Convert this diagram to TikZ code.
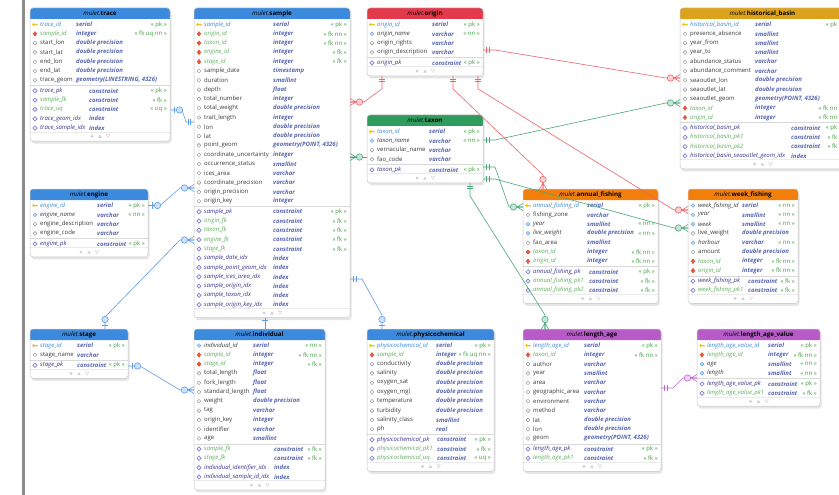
\documentclass[tikz,border=0pt]{standalone}
\usepackage{fontspec}
\setmainfont{Open Sans}
\usetikzlibrary{calc}

\definecolor{hblue}{HTML}{3C8ADE}
\definecolor{hred}{HTML}{E23A4A}
\definecolor{hgreen}{HTML}{2F9C5E}
\definecolor{hgold}{HTML}{DCA21C}
\definecolor{horange}{HTML}{F27F0C}
\definecolor{hpurple}{HTML}{B75BC8}
\definecolor{pkblue}{HTML}{3C88D8}
\definecolor{fkgreen}{HTML}{5CAE5C}
\definecolor{coltext}{HTML}{3A3A3A}
\definecolor{navy}{HTML}{33338C}
\definecolor{typeblue}{HTML}{5565B0}
\definecolor{flaggreen}{HTML}{3E9E3E}
\definecolor{keyyel}{HTML}{E8C21A}
\definecolor{fkred}{HTML}{E8573A}
\definecolor{nnblue}{HTML}{5A9EE0}
\definecolor{conpur}{HTML}{7272C8}
\definecolor{lblue}{HTML}{5E9CE6}
\definecolor{lred}{HTML}{EC6468}
\definecolor{lgreen}{HTML}{46A878}
\definecolor{lpurple}{HTML}{C466D6}

\newcommand\ersize{\fontsize{6}{7}\selectfont}

\tikzset{
  erbox/.style={rectangle, fill=white, inner sep=0, outer sep=0},
  erborder/.style={draw=black!22, line width=0.5pt, rounded corners=3pt},
  erhead/.style={inner sep=0, font=\fontsize{6.2}{7}\selectfont},
  ername/.style={anchor=west, inner sep=0, font=\ersize, text=coltext},
  nm-pk/.style={text=pkblue, font=\ersize\itshape},
  nm-fk/.style={text=fkgreen, font=\ersize\itshape},
  nm-nn/.style={font=\ersize\itshape},
  nm-col/.style={},
  nm-kn/.style={text=navy, font=\ersize\itshape},
  nm-kg/.style={text=fkgreen, font=\ersize\itshape},
  ertype/.style={anchor=west, inner sep=0, text=typeblue, font=\ersize\bfseries\itshape},
  erflag/.style={anchor=east, inner sep=0, text=flaggreen, font=\ersize},
  rel/.style={line width=0.6pt},
  % row icons
  ico-pk/.pic={\fill[keyyel] (-1.3,0) circle (1.5); \fill[keyyel] (-0.5,-0.5) rectangle (2.6,0.5) (1.6,0.5) rectangle (2.4,1.6);},
  ico-fk/.pic={\fill[fkred] (-2.2,-0.9) rectangle (2.2,0.9) (-0.9,-2.2) rectangle (0.9,2.2);},
  ico-nn/.pic={\draw[nnblue, fill=nnblue!35, line width=0.4pt] (0,0) circle (1.9);},
  ico-col/.pic={\draw[black!45, fill=white, line width=0.4pt] (0,0) circle (1.9);},
  ico-con/.pic={\draw[conpur, fill=conpur!15, line width=0.5pt] (0,-2.2) -- (2.2,0) -- (0,2.2) -- (-2.2,0) -- cycle;},
  % relation ends
  one/.pic={\draw[#1, line width=0.6pt] (3.5,-3.2) -- (3.5,3.2) (5.8,-3.2) -- (5.8,3.2);},
  zone/.pic={\draw[#1, line width=0.6pt] (4,-3.2) -- (4,3.2); \draw[#1, line width=0.6pt, fill=#1!30] (9.5,0) circle (3.2);},
  many/.pic={\draw[#1, line width=0.6pt] (0,-3.5) -- (6,0) -- (0,3.5) (0,0) -- (6,0); \draw[#1, line width=0.6pt, fill=#1!30] (9.5,0) circle (3.2);},
}

% table frame: name, x, y, width, colour, title, columns, constraints
\newcommand\ertable[8]{%
  \def\erid{#1}\def\erx{#2}\def\ery{#3}\def\erw{#4}\def\ernc{#7}%
  \pgfmathsetmacro\erh{40+9.3*(#7+#8-2)}%
  \fill[black!10, rounded corners=3pt] (#2+1.5,#3+2.5) rectangle ++(#4,\erh);
  \node[erbox, minimum width=#4, minimum height=\erh, anchor=north west] (#1) at (#2,#3) {};
  \fill[#5, rounded corners=3pt] (#2,#3) rectangle ++(#4,11);
  \fill[#5] (#2,#3+6) rectangle ++(#4,5);
  \node[erhead] (#1-title) at (#2+#4/2,#3+5.5) {\textit{mulet.}\textbf{#6}};
  \pgfmathsetmacro\ersep{#3+16.5+9.3*(#7-1)+5.2}%
  \draw[black!15] (#2,\ersep) -- ++(#4,0);
  \pgfmathsetmacro\erfy{#3+\erh-4.8}%
  \draw[black!8] (#2,\erfy-4.5) -- ++(#4,0);
  \fill[black!18] (#2+#4/2-8,\erfy-1.6) -- ++(1.6,1.6) -- ++(-1.6,1.6) -- ++(-1.6,-1.6) -- cycle;
  \fill[black!18] (#2+#4/2,\erfy-1.6) -- ++(1.8,3.2) -- ++(-3.6,0) -- cycle;
  \draw[black!18, line width=0.4pt] (#2+#4/2+8,\erfy+1.6) -- ++(1.8,-3.2) -- ++(-3.6,0) -- cycle;
  \draw[erborder] (#1.north west) rectangle (#1.south east);
}
% column rows: type offset, list icon/name/type/flag
\newcommand\ercols[2]{%
  \foreach \k/\n/\t/\f [count=\i from 0] in {#2}{
    \pgfmathsetmacro\ry{\ery+16.5+9.3*\i}
    \pic at (\erx+5,\ry) {ico-\k};
    \node[ername, nm-\k] (\erid-c\i) at (\erx+10,\ry) {\n};
    \node[ertype] (\erid-t\i) at (\erx+#1,\ry) {\t};
    \node[erflag] (\erid-f\i) at (\erx+\erw-3,\ry) {\if-\f\else«~\f~»\fi};
  }
}
% constraint rows
\newcommand\ercons[2]{%
  \foreach \k/\n/\t/\f [count=\i from 0] in {#2}{
    \pgfmathsetmacro\ry{\ery+16.5+9.3*(\ernc-1)+10.5+9.3*\i}
    \pic at (\erx+5,\ry) {ico-con};
    \node[ername, nm-\k] (\erid-k\i) at (\erx+10,\ry) {\n};
    \node[ertype] (\erid-u\i) at (\erx+#1,\ry) {\t};
    \node[erflag] (\erid-g\i) at (\erx+\erw-3,\ry) {\if-\f\else«~\f~»\fi};
  }
}

\begin{document}
\begin{tikzpicture}[x=1pt, y=-1pt]
\useasboundingbox (0,0) rectangle (839,495);
\fill[white] (0,0) rectangle (839,495);
\fill[black!45] (22,0) rectangle (24.5,495);

% tables
\ertable{trace}{30}{8}{140}{hblue}{trace}{7}{5}
\ercols{46}{pk/trace\_id/serial/pk, fk/sample\_id/integer/fk uq nn,
  col/start\_lon/double precision/-, col/start\_lat/double precision/-,
  col/end\_lon/double precision/-, col/end\_lat/double precision/-,
  col/trace\_geom/{geometry(LINESTRING, 4326)}/-}
\ercons{59}{kn/trace\_pk/constraint/pk, kg/sample\_fk/constraint/fk, kg/trace\_uq/constraint/uq,
  kn/trace\_geom\_idx/index/-, kn/trace\_sample\_idx/index/-}

\ertable{sample}{194}{8}{156}{hblue}{sample}{20}{11}
\ercols{79}{pk/sample\_id/serial/pk, fk/origin\_id/integer/fk nn, fk/taxon\_id/integer/fk nn,
  fk/engine\_id/integer/fk, fk/stage\_id/integer/fk, col/sample\_date/timestamp/-,
  col/duration/smallint/-, col/depth/float/-, col/total\_number/integer/-,
  col/total\_weight/double precision/-, col/trait\_length/integer/-,
  col/lon/double precision/-, col/lat/double precision/-,
  col/point\_geom/{geometry(POINT, 4326)}/-, col/coordinate\_uncertainty/integer/-,
  col/occurrence\_status/smallint/-, col/ices\_area/varchar/-,
  col/coordinate\_precision/varchar/-, col/origin\_precision/varchar/-, col/origin\_key/integer/-}
\ercons{79}{kn/sample\_pk/constraint/pk, kg/origin\_fk/constraint/fk, kg/taxon\_fk/constraint/fk,
  kg/engine\_fk/constraint/fk, kg/stage\_fk/constraint/fk, kn/sample\_date\_idx/index/-,
  kn/sample\_point\_geom\_idx/index/-, kn/sample\_ices\_area\_idx/index/-,
  kn/sample\_origin\_idx/index/-, kn/sample\_taxon\_idx/index/-, kn/sample\_origin\_key\_idx/index/-}

\ertable{origin}{367}{8}{116}{hred}{origin}{4}{1}
\ercols{65}{pk/origin\_id/serial/pk, nn/origin\_name/varchar/nn,
  col/origin\_rights/varchar/-, col/origin\_description/varchar/-}
\ercons{65}{kn/origin\_pk/constraint/pk}

\ertable{taxon}{367}{115}{116}{hgreen}{taxon}{4}{1}
\ercols{62}{pk/taxon\_id/serial/pk, nn/taxon\_name/varchar/nn,
  col/vernacular\_name/varchar/-, col/fao\_code/varchar/-}
\ercons{62}{kn/taxon\_pk/constraint/pk}

\ertable{basin}{680}{8}{165}{hgold}{historical\_basin}{11}{4}
\ercols{75}{pk/historical\_basin\_id/serial/pk, col/presence\_absence/smallint/-,
  col/year\_from/smallint/-, col/year\_to/smallint/-, col/abundance\_status/varchar/-,
  col/abundance\_comment/varchar/-, col/seaoutlet\_lon/double precision/-,
  col/seaoutlet\_lat/double precision/-, col/seaoutlet\_geom/{geometry(POINT, 4326)}/-,
  fk/taxon\_id/integer/fk nn, fk/origin\_id/integer/fk nn}
\ercons{111}{kn/historical\_basin\_pk/constraint/pk, kg/historical\_basin\_pk1/constraint/fk,
  kg/historical\_basin\_pk2/constraint/fk, kn/historical\_basin\_seaoutlet\_geom\_idx/index/-}

\ertable{engine}{30}{189}{118}{hblue}{engine}{4}{1}
\ercols{67}{pk/engine\_id/serial/pk, nn/engine\_name/varchar/nn,
  col/engine\_description/varchar/-, col/engine\_code/varchar/-}
\ercons{67}{kn/engine\_pk/constraint/pk}

\ertable{stage}{30}{329}{98}{hblue}{stage}{2}{1}
\ercols{47}{pk/stage\_id/serial/pk, col/stage\_name/varchar/-}
\ercons{47}{kn/stage\_pk/constraint/pk}

\ertable{individual}{194}{329}{131}{hblue}{individual}{11}{4}
\ercols{59}{nn/individual\_id/serial/nn, fk/sample\_id/integer/fk nn, fk/stage\_id/integer/fk,
  col/total\_length/float/-, col/fork\_length/float/-, col/standard\_length/float/-,
  col/weight/double precision/-, col/tag/varchar/-, col/origin\_key/integer/-,
  col/identifier/varchar/-, col/age/smallint/-}
\ercons{80}{kg/sample\_fk/constraint/fk, kg/stage\_fk/constraint/fk,
  kn/individual\_identifier\_idx/index/-, kn/individual\_sample\_id\_idx/index/-}

\ertable{physico}{367}{329}{127}{hblue}{physicochemical}{10}{3}
\ercols{69}{pk/physicochemical\_id/serial/pk, fk/sample\_id/integer/fk uq nn,
  col/conductivity/double precision/-, col/salinity/double precision/-,
  col/oxygen\_sat/double precision/-, col/oxygen\_mgl/double precision/-,
  col/temperature/double precision/-, col/turbidity/double precision/-,
  col/salinity\_class/smallint/-, col/ph/real/-}
\ercons{70}{kn/physicochemical\_pk/constraint/pk, kg/physicochemical\_pk1/constraint/fk,
  kg/physicochemical\_uq/constraint/uq}

\ertable{annual}{523}{189}{135}{horange}{annual\_fishing}{7}{3}
\ercols{64}{pk/annual\_fishing\_id/serial/pk, col/fishing\_zone/varchar/-,
  nn/year/smallint/nn, nn/live\_weight/double precision/nn, col/fao\_area/smallint/-,
  fk/taxon\_id/integer/fk nn, fk/origin\_id/integer/fk nn}
\ercons{66}{kn/annual\_fishing\_pk/constraint/pk, kg/annual\_fishing\_pk1/constraint/fk,
  kg/annual\_fishing\_pk2/constraint/fk}

\ertable{week}{688}{189}{110}{horange}{week\_fishing}{8}{2}
\ercols{54}{nn/week\_fishing\_id/serial/nn, nn/year/smallint/nn, nn/week/smallint/nn,
  col/live\_weight/double precision/-, nn/harbour/varchar/nn, col/amount/double precision/-,
  fk/taxon\_id/integer/fk nn, fk/origin\_id/integer/fk nn}
\ercons{60}{kn/week\_fishing\_pk/constraint/fk, kg/week\_fishing\_pk1/constraint/fk}

\ertable{lenage}{523}{329}{138}{hpurple}{length\_age}{11}{2}
\ercols{61}{pk/length\_age\_id/serial/pk, fk/taxon\_id/integer/fk nn, col/author/varchar/-,
  col/year/smallint/-, col/area/varchar/-, col/geographic\_area/varchar/-,
  col/environment/varchar/-, col/method/varchar/-, col/lat/double precision/-,
  col/lon/double precision/-, col/geom/{geometry(POINT, 4326)}/-}
\ercons{61}{kn/length\_age\_pk/constraint/pk, kg/length\_age\_pk1/constraint/fk}

\ertable{lenval}{697}{329}{123}{hpurple}{length\_age\_value}{4}{2}
\ercols{71}{pk/length\_age\_value\_id/serial/pk, fk/length\_age\_id/integer/fk nn,
  nn/age/smallint/nn, nn/length/smallint/nn}
\ercons{71}{kn/length\_age\_value\_pk/constraint/pk, kg/length\_age\_value\_pk1/constraint/fk}

% relations to sample
\coordinate (r1a) at ([yshift=-102pt]trace.north east);
\coordinate (r1b) at ([yshift=-114pt]sample.north west);
\draw[rel,lblue] (r1a) -- ++(12,0) -- ([xshift=-8pt]r1b) -- (r1b);
\pic at (r1a) {zone=lblue};
\pic[rotate=180] at (r1b) {one=lblue};

\coordinate (r2a) at ([yshift=-16.5pt]engine.north east);
\coordinate (r2b) at ([yshift=-180pt]sample.north west);
\draw[rel,lblue] (r2a) -- ++(12,0) -- ([xshift=-14pt]r2b) -- (r2b);
\pic at (r2a) {zone=lblue};
\pic[rotate=180] at (r2b) {many=lblue};

\coordinate (r3a) at ([xshift=75pt]stage.north west);
\coordinate (r3b) at ([yshift=-232pt]sample.north west);
\draw[rel,lblue] (r3a) -- ++(0,-12) -- ([xshift=-14pt]r3b) -- (r3b);
\pic[rotate=90] at (r3a) {zone=lblue};
\pic[rotate=180] at (r3b) {many=lblue};

\coordinate (r4a) at ([yshift=-37pt]stage.north east);
\coordinate (r4b) at ([yshift=-61pt]individual.north west);
\draw[rel,lblue] (r4a) -- ++(12,0) -- ([xshift=-14pt]r4b) -- (r4b);
\pic at (r4a) {zone=lblue};
\pic[rotate=180] at (r4b) {many=lblue};

\coordinate (r5a) at ([xshift=71pt]sample.south west);
\coordinate (r5b) at ([xshift=71pt]individual.north west);
\draw[rel,lblue] (r5a) -- (r5b);
\draw[rel,lblue] ([xshift=-3pt,yshift=-2.5pt]r5a) -- ++(6,0);
\draw[rel,lblue] ([xshift=-3.5pt]r5b) -- ++(3.5,4) -- ++(3.5,-4);

\coordinate (r6a) at ([yshift=-271pt]sample.north east);
\coordinate (r6b) at ([xshift=15pt]physico.north west);
\draw[rel,lblue] (r6a) -- ++(12,0) -- ([yshift=14pt]r6b) -- (r6b);
\pic at (r6a) {one=lblue};
\pic[rotate=90] at (r6b) {zone=lblue};

% relations to origin
\coordinate (r7a) at ([xshift=15pt]origin.south west);
\coordinate (r7b) at ([yshift=-94pt]sample.north east);
\draw[rel,lred] (r7a) -- ++(0,13) -- ([xshift=14pt]r7b) -- (r7b);
\pic[rotate=-90] at (r7a) {one=lred};
\pic at (r7b) {many=lred};

\coordinate (r8a) at ([yshift=-42pt]origin.north east);
\coordinate (r8b) at ([yshift=-70pt]basin.north west);
\draw[rel,lred] (r8a) -- ++(12,0) -- ([xshift=-14pt]r8b) -- (r8b);
\pic at (r8a) {one=lred};
\pic[rotate=180] at (r8b) {many=lred};

\coordinate (r9a) at ([xshift=86pt]origin.south west);
\coordinate (r9b) at ([xshift=20pt]annual.north west);
\draw[rel,lred] (r9a) -- ++(0,13) -- ([yshift=14pt]r9b) -- (r9b);
\pic[rotate=-90] at (r9a) {one=lred};
\pic[rotate=90] at (r9b) {many=lred};

\coordinate (r10a) at ([xshift=111pt]origin.south west);
\coordinate (r10b) at ([yshift=-21pt]week.north west);
\draw[rel,lred] (r10a) -- ++(0,13) -- ([xshift=-14pt]r10b) -- (r10b);
\pic[rotate=-90] at (r10a) {one=lred};
\pic[rotate=180] at (r10b) {many=lred};

% relations to taxon
\coordinate (r11a) at ([yshift=-42pt]taxon.north west);
\coordinate (r11b) at ([yshift=-149pt]sample.north east);
\draw[rel,lgreen] (r11a) -- (r11b);
\pic at (r11b) {many=lgreen};

\coordinate (r12a) at ([yshift=-25pt]taxon.north east);
\coordinate (r12b) at ([yshift=-95pt]basin.north west);
\draw[rel,lgreen] (r12a) -- ++(12,0) -- ([xshift=-14pt]r12b) -- (r12b);
\pic at (r12a) {one=lgreen};
\pic[rotate=180] at (r12b) {many=lgreen};

\coordinate (r13a) at ([yshift=-52pt]taxon.north east);
\coordinate (r13b) at ([yshift=-18pt]annual.north west);
\draw[rel,lgreen] (r13a) -- ++(12,0) -- ([xshift=-14pt]r13b) -- (r13b);
\pic at (r13a) {one=lgreen};
\pic[rotate=180] at (r13b) {many=lgreen};

\coordinate (r14a) at ([yshift=-64pt]taxon.north east);
\coordinate (r14b) at ([yshift=-39pt]week.north west);
\draw[rel,lgreen] (r14a) -- ++(12,0) -- ([xshift=-14pt]r14b) -- (r14b);
\pic at (r14a) {one=lgreen};
\pic[rotate=180] at (r14b) {many=lgreen};

\coordinate (r15a) at ([xshift=103pt]taxon.south west);
\coordinate (r15b) at ([xshift=22pt]lenage.north west);
\draw[rel,lgreen] (r15a) -- ++(0,13) -- ([yshift=14pt]r15b) -- (r15b);
\pic[rotate=-90] at (r15a) {one=lgreen};
\pic[rotate=90] at (r15b) {many=lgreen};

% length_age values
\coordinate (r16a) at ([yshift=-59pt]lenage.north east);
\coordinate (r16b) at ([yshift=-49pt]lenval.north west);
\draw[rel,lpurple] (r16a) -- ++(12,0) -- ([xshift=-14pt]r16b) -- (r16b);
\pic at (r16a) {one=lpurple};
\pic[rotate=180] at (r16b) {many=lpurple};
\end{tikzpicture}
\end{document}
